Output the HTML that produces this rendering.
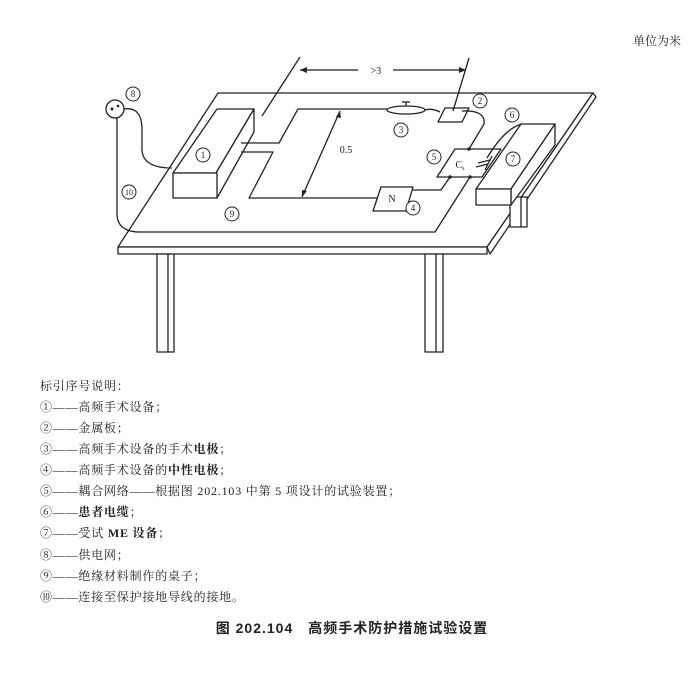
<!DOCTYPE html>
<html><head><meta charset="utf-8"><style>
html,body{margin:0;padding:0;background:#fff;}
svg{display:block}
text{font-family:"Liberation Serif","Noto Serif CJK SC","Noto Sans CJK SC",serif;fill:#222}
</style></head><body>
<svg width="700" height="700" viewBox="0 0 700 700" xmlns="http://www.w3.org/2000/svg">
<g fill="none" stroke="#222" stroke-width="1.3" stroke-linejoin="round">
<!-- tabletop -->
<polygon points="218,93 593,93 487,247 118,247" fill="#fff"/>
<polygon points="118,247 487,247 487,254 118,254" fill="#fff"/>
<polygon points="593,93 596,97 490,254 487,247" fill="#fff"/>
<!-- legs -->
<rect x="157" y="254" width="17" height="98" fill="#fff"/>
<line x1="168" y1="254" x2="168" y2="352"/>
<rect x="425" y="254" width="18" height="98" fill="#fff"/>
<line x1="436" y1="254" x2="436" y2="352"/>
<polygon points="510,197 527,197 527,227 510,227" fill="#fff"/>
<line x1="521" y1="197" x2="521" y2="227"/>
<!-- box 1 -->
<polygon points="173,173 216,173 254,109 217,109" fill="#fff"/>
<polygon points="216,173 254,109 254,132 217,198" fill="#fff"/>
<rect x="173" y="173" width="44" height="25" fill="#fff"/>
<!-- box 7 -->
<polygon points="476,189 511,189 555,124 521,124" fill="#fff"/>
<polygon points="511,189 555,124 555,145 511,205" fill="#fff"/>
<rect x="476" y="189" width="35" height="16" fill="#fff"/>
<!-- circuit -->
<polyline points="241,143 279,143 298,109 387,109"/>
<polyline points="241,152 273,152 249,198 377,198"/>
<ellipse cx="406" cy="110" rx="19" ry="4"/>
<line x1="406" y1="106" x2="406" y2="102"/><line x1="402" y1="102" x2="410" y2="102"/>
<path d="M425,110 Q432,108 440,112"/>
<polygon points="438,122 462,122 469,108 445,108" fill="#fff"/>
<path d="M462,111 Q486,110 484,124 L469,149"/>
<polygon points="437,177 482,177 501,149 455,149" fill="#fff"/>
<polygon points="373,211 406,211 413,187 381,187" fill="#fff"/>
<polyline points="413,190 441,190 450,177"/>
<polyline points="470,177 435,232 140,232"/>
<path d="M487,158 Q505,128 522,124"/>
<line x1="478" y1="163" x2="490" y2="160"/><line x1="476" y1="167" x2="488" y2="164"/><line x1="485" y1="170" x2="492" y2="156"/>
<!-- cables -->
<path d="M124,109 Q142,106 142,130 L142,150 Q143,168 172,168"/>
<path d="M117,118 L117,215 Q118,232 140,232"/>
<!-- dimensions -->
<line x1="262" y1="116" x2="300" y2="57"/>
<line x1="453" y1="111" x2="469" y2="58"/>
<line x1="300" y1="70" x2="358" y2="70"/><line x1="393" y1="70" x2="466" y2="70"/>
<line x1="340" y1="111" x2="302" y2="197"/>
</g>
<g fill="#222">
<circle cx="469" cy="149" r="1.8"/><circle cx="450" cy="177" r="1.8"/><circle cx="470" cy="177" r="1.8"/>
<polygon points="300,70 307,67 307,73"/><polygon points="466,70 459,67 459,73"/>
<polygon points="340,111 336,117 341,118"/><polygon points="302,197 302,190 307,191"/>
</g>
<!-- plug -->
<circle cx="115" cy="109" r="9" fill="#fff" stroke="#222" stroke-width="1.3"/>
<circle cx="112" cy="109" r="1.5" fill="#222"/><circle cx="118" cy="106" r="1.3" fill="#222"/>
<g fill="#fff" stroke="#222" stroke-width="1">
<circle cx="133" cy="94" r="7"/><circle cx="203" cy="155" r="7"/><circle cx="480" cy="101" r="7"/>
<circle cx="401" cy="130" r="7"/><circle cx="512" cy="115" r="7"/><circle cx="434" cy="157" r="7"/>
<circle cx="513" cy="159" r="7"/><circle cx="413" cy="208" r="7"/><circle cx="232" cy="214" r="7"/><circle cx="129" cy="192" r="7"/>
</g>
<g font-size="9" text-anchor="middle">
<text x="133" y="97">8</text><text x="203" y="158">1</text><text x="480" y="104">2</text>
<text x="401" y="133">3</text><text x="512" y="118">6</text><text x="434" y="160">5</text>
<text x="513" y="162">7</text><text x="413" y="211">4</text><text x="232" y="217">9</text><text x="129" y="195" font-size="8">10</text>
<text x="392" y="202" font-size="10">N</text>
<text x="460" y="168" font-size="10">C<tspan font-size="6" dy="2">s</tspan></text>
<text x="376" y="74" font-size="10">&gt;3</text>
<text x="346" y="153" font-size="10">0.5</text>
</g>
<text x="633" y="45" font-size="12">单位为米</text>
<g font-size="12" letter-spacing="0.8">
<text x="40" y="390">标引序号说明：</text>
<text x="40" y="411">①——高频手术设备；</text>
<text x="40" y="432">②——金属板；</text>
<text x="40" y="453">③——高频手术设备的手术<tspan font-weight="bold">电极</tspan>；</text>
<text x="40" y="474">④——高频手术设备的<tspan font-weight="bold">中性电极</tspan>；</text>
<text x="40" y="495">⑤——耦合网络——根据图 202.103 中第 5 项设计的试验装置；</text>
<text x="40" y="516">⑥——<tspan font-weight="bold">患者电缆</tspan>；</text>
<text x="40" y="537">⑦——受试 <tspan font-weight="bold">ME 设备</tspan>；</text>
<text x="40" y="559">⑧——供电网；</text>
<text x="40" y="580">⑨——绝缘材料制作的桌子；</text>
<text x="40" y="601">⑩——连接至保护接地导线的接地。</text>
</g>
<text x="352" y="633" font-size="14" font-weight="bold" text-anchor="middle" style="font-family:'Liberation Sans','Noto Sans CJK SC',sans-serif" letter-spacing="1">图 202.104　高频手术防护措施试验设置</text>
</svg>
</body></html>
